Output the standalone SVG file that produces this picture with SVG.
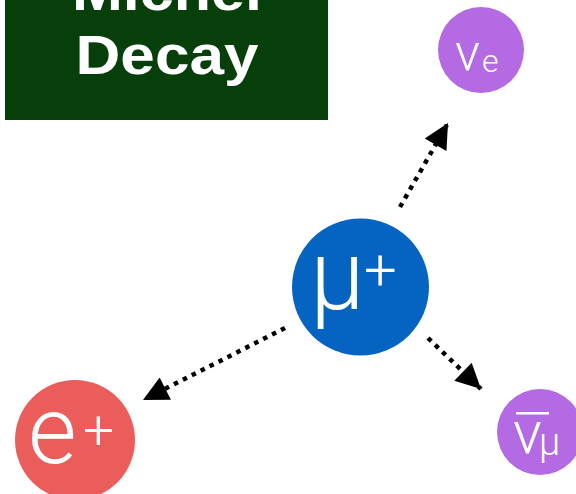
<svg xmlns="http://www.w3.org/2000/svg" width="576" height="494" viewBox="0 0 576 494">
<style>
.lbl{fill:#fff;font-family:Roboto,"Liberation Sans",sans-serif;font-weight:300}
.conn{stroke:#000;stroke-width:4.5;stroke-dasharray:4.5 5.5;fill:none}
.title{fill:#fff;font-family:"Liberation Sans",Arial,sans-serif;font-weight:bold;font-size:56px;text-anchor:middle}
</style>
<defs>
<marker id="ah" viewBox="0 0 10 10" refX="10" refY="5" markerWidth="27" markerHeight="25" markerUnits="userSpaceOnUse" orient="auto">
<path d="M0,0 L10,5 L0,10 Z" fill="#000"/>
</marker>
</defs>
<rect width="576" height="494" fill="#fff"/>
<g id="title">
<rect x="5" y="0" width="323" height="120" fill="#073f0b"/>
<text class="title" x="167" y="10" textLength="190" lengthAdjust="spacingAndGlyphs">Michel</text>
<text class="title" x="167" y="74" textLength="183" lengthAdjust="spacingAndGlyphs">Decay</text>
</g>
<g id="connectors">
<line class="conn" x1="400" y1="207" x2="448" y2="123" marker-end="url(#ah)"/>
<line class="conn" x1="285" y1="328" x2="143" y2="400" marker-end="url(#ah)"/>
<line class="conn" x1="428" y1="338" x2="481" y2="389" marker-end="url(#ah)"/>
</g>
<g id="muon">
<circle cx="360.5" cy="287" r="68.5" fill="#0563c1"/>
<text class="lbl" x="310" y="309" font-size="98">μ</text>
<text class="lbl" x="364" y="290" font-size="58">+</text>
</g>
<g id="nu-e">
<circle cx="481" cy="50" r="43" fill="#b36ae2"/>
<text class="lbl" x="455" y="70" font-size="52">ν</text>
<text class="lbl" x="482" y="72" font-size="32">e</text>
</g>
<g id="positron">
<circle cx="75" cy="440" r="60" fill="#eb5d5a"/>
<text class="lbl" x="28" y="463" font-size="94">e</text>
<text class="lbl" x="83" y="449" font-size="55">+</text>
</g>
<g id="nu-mu-bar">
<circle cx="540" cy="432" r="43" fill="#b36ae2"/>
<rect x="516" y="412" width="33" height="2.5" fill="#fff"/>
<text class="lbl" x="513" y="453" font-size="60">ν</text>
<text class="lbl" x="539" y="455" font-size="38">μ</text>
</g>
</svg>
